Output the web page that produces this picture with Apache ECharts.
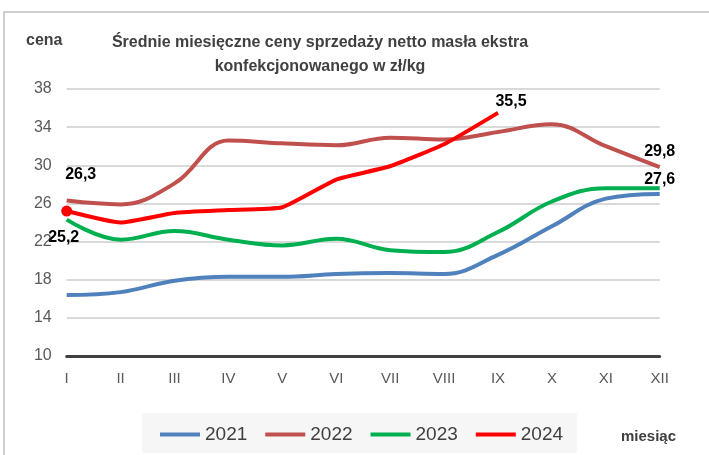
<!DOCTYPE html>
<html>
<head>
<meta charset="utf-8">
<script src="https://cdn.jsdelivr.net/npm/echarts@6/dist/echarts.min.js"></script>
<style>
  html, body { margin: 0; padding: 0; background: #fff; }
  #chart { width: 709px; height: 455px; }
</style>
</head>
<body>
<div id="chart"></div>
<script>
// miesiące
var months = ['I', 'II', 'III', 'IV', 'V', 'VI', 'VII', 'VIII', 'IX', 'X', 'XI', 'XII'];
// ceny zł/kg
var y2021 = [16.4, 16.7, 17.9, 18.3, 18.3, 18.6, 18.7, 18.6, 20.6, 23.6, 26.5, 27.0];
var y2022 = [26.3, 25.9, 28.1, 32.6, 32.3, 32.1, 32.9, 32.7, 33.5, 34.3, 32.0, 29.8];
var y2023 = [24.3, 22.2, 23.1, 22.2, 21.6, 22.3, 21.1, 20.9, 23.0, 26.2, 27.6, 27.6];
var y2024 = [25.2, 24.0, 25.0, 25.3, 25.6, 28.5, 29.9, 32.2, 35.5];
var years = ['2021', '2022', '2023', '2024'];
var yTicks = [10, 14, 18, 22, 26, 30, 34, 38];

var FONT = 'Liberation Sans';

function fmt(v) { return String(v.toFixed(1)).replace('.', ','); }

// etykiety tylko przy wybranych punktach
function withLabels(values, labelled) {
  return values.map(function (v, i) {
    var cfg = labelled[i];
    if (!cfg) return v;
    return {
      value: v,
      label: {
        show: true,
        position: cfg.pos,
        offset: cfg.off,
        formatter: fmt(v),
        color: '#000',
        fontWeight: 'bold',
        fontSize: 16,
        fontFamily: FONT
      }
    };
  });
}

var d2022 = withLabels(y2022, { 0: { pos: 'top', off: [14, -13] }, 11: { pos: 'top', off: [0, -3] } });
var d2023 = withLabels(y2023, { 11: { pos: 'top', off: [0, 4] } });
var d2024 = withLabels(y2024, { 0: { pos: 'bottom', off: [-3, 8] }, 8: { pos: 'top', off: [13, 2] } });
d2024[0].symbolSize = 11;

var chart = echarts.init(document.getElementById('chart'));

function line(name, data, color, smooth) {
  return {
    name: name,
    type: 'line',
    data: data,
    smooth: smooth,
    symbol: 'circle',
    symbolSize: 0,
    showSymbol: true,
    color: color,
    lineStyle: { color: color, width: 4 },
    itemStyle: { color: color },
    emphasis: { disabled: true },
    z: 3
  };
}

chart.setOption({
  animation: false,
  backgroundColor: '#fff',
  graphic: [
    { type: 'rect', shape: { x: 4, y: 12, width: 720, height: 470 },
      style: { fill: 'none', stroke: '#c0c0c0', lineWidth: 1.5 }, z: 0 },
    { type: 'rect', shape: { x: 142, y: 413, width: 435, height: 40 },
      style: { fill: '#f6f6f6' }, z: 0 }
  ],
  title: [
    {
      text: 'Średnie miesięczne ceny sprzedaży netto masła ekstra\nkonfekcjonowanego w zł/kg',
      left: 315, top: 26, textAlign: 'center',
      textStyle: { fontFamily: FONT, fontSize: 16, fontWeight: 'bold', color: '#404040', lineHeight: 24 }
    },
    {
      text: 'cena', left: 21, top: 28,
      textStyle: { fontFamily: FONT, fontSize: 16, fontWeight: 'bold', color: '#404040' }
    },
    {
      text: 'miesiąc', left: 616, top: 424,
      textStyle: { fontFamily: FONT, fontSize: 15, fontWeight: 'bold', color: '#404040' }
    }
  ],
  legend: {
    data: years,
    left: 155, top: 420,
    icon: 'rect',
    itemWidth: 40, itemHeight: 4,
    itemGap: 18,
    textStyle: { fontFamily: FONT, fontSize: 19, color: '#404040' }
  },
  grid: { left: 66.7, right: 49.3, top: 89, bottom: 99 },
  xAxis: {
    type: 'category',
    data: months,
    boundaryGap: false,
    axisLine: { show: true, lineStyle: { color: '#404040', width: 3 } },
    axisTick: { show: false },
    axisLabel: { color: '#595959', fontSize: 15, fontFamily: FONT, margin: 15 },
    splitLine: { show: false }
  },
  yAxis: {
    type: 'value',
    min: yTicks[0], max: yTicks[yTicks.length - 1], interval: 4,
    axisLine: { show: false },
    axisTick: { show: false },
    axisLabel: { color: '#595959', fontSize: 16, fontFamily: FONT, margin: 15 },
    splitLine: { lineStyle: { color: '#d9d9d9', width: 2 } }
  },
  series: [
    line(years[0], y2021, '#4f81bd', 0.4),
    line(years[1], d2022, '#c0504d', 0.4),
    line(years[2], d2023, '#00b050', 0.4),
    line(years[3], d2024, '#ff0000', 0.15)
  ]
});
</script>
</body>
</html>
